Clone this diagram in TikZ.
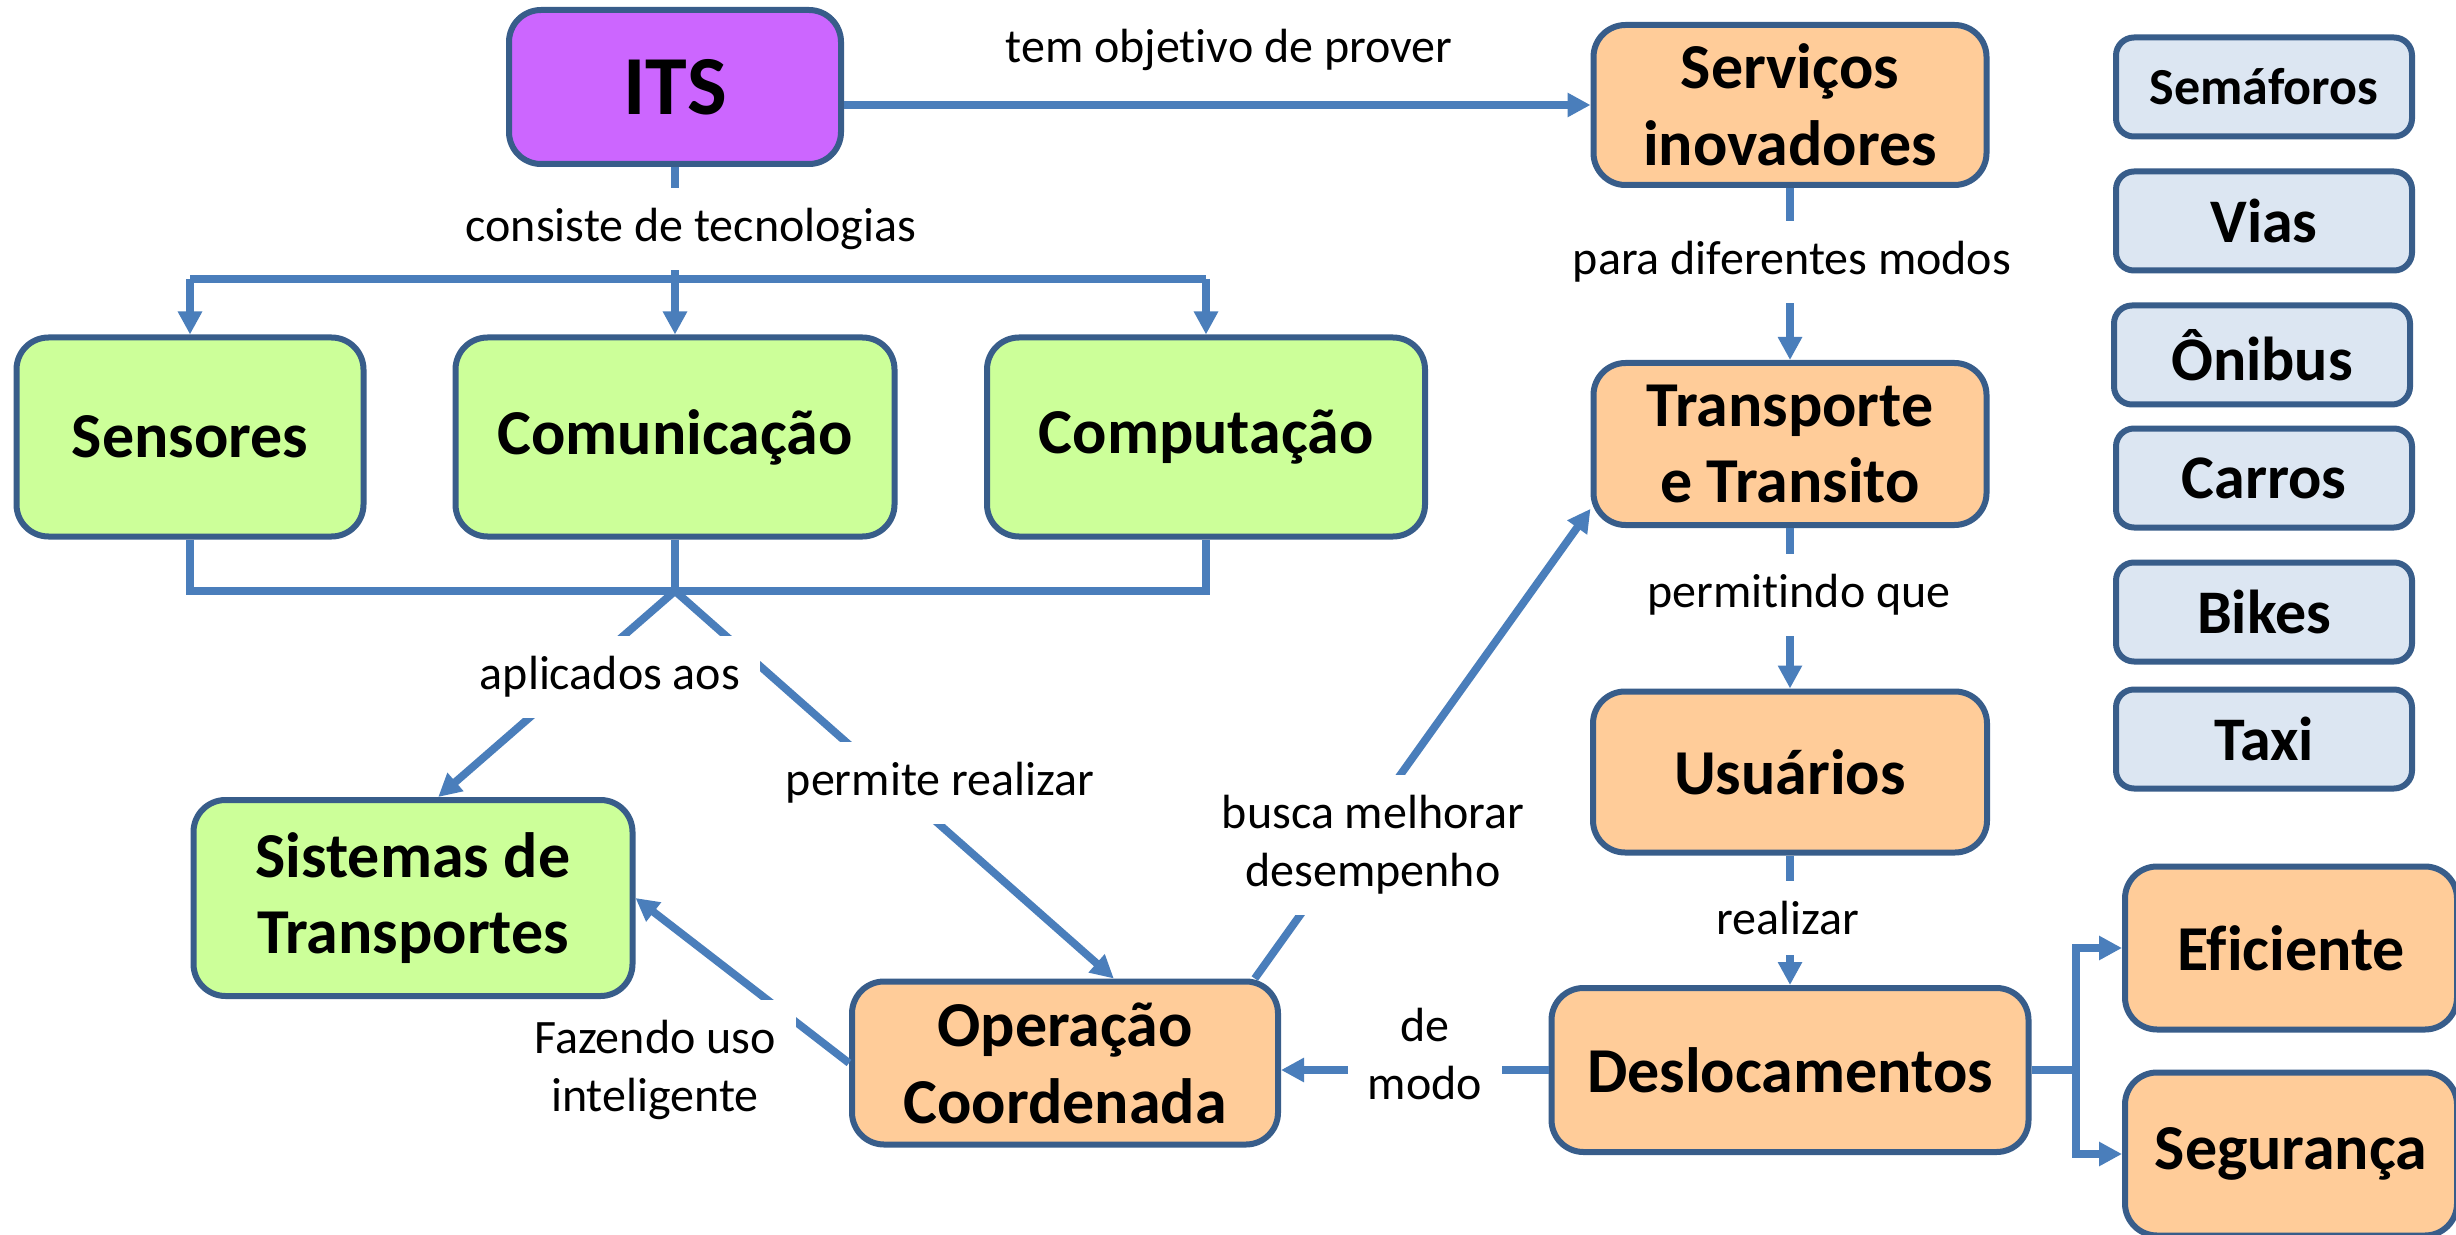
\documentclass[tikz,border=0pt]{standalone}
\usepackage{fontspec}
\setmainfont{Carlito}[Ligatures=NoCommon]
\usetikzlibrary{arrows.meta}
\definecolor{itsc}{HTML}{CC66FF}
\definecolor{verde}{HTML}{CCFF99}
\definecolor{laranja}{HTML}{FFCC99}
\definecolor{azulc}{HTML}{DCE6F2}
\definecolor{borda}{HTML}{385D8A}
\definecolor{linha}{HTML}{4A7EBB}
\begin{document}
\begin{tikzpicture}[x=0.5pt,y=-0.5pt,
    caixa/.style={draw=borda,line width=3pt,rounded corners=16pt,align=center,inner sep=0pt,font=\bfseries\fontsize{32}{38.4}\selectfont},
    modobox/.style={caixa,fill=azulc,rounded corners=9pt,minimum width=148pt,minimum height=49.5pt,font=\bfseries\fontsize{31}{37}\selectfont},
    rotulo/.style={fill=white,inner sep=10pt,align=center,font=\fontsize{24}{29}\selectfont},
    liga/.style={draw=linha,line width=3.9pt},
    seta/.style={liga,-{Triangle[length=11.5pt,width=11.5pt]}}]
            \path[use as bounding box,fill=white] (0,0) rectangle (2456,1235);
            \node[caixa,fill=itsc,minimum width=166pt,minimum height=77pt,font=\bfseries\fontsize{42}{50}\selectfont] (its) at (675,87) {ITS};
            \node[caixa,fill=laranja,minimum width=196.5pt,minimum height=80pt] (serv) at (1790,105) {Serviços\\inovadores};
            \node[caixa,fill=laranja,minimum width=196.5pt,minimum height=81pt] (trans) at (1790,444) {Transporte\\e Transito};
            \node[caixa,fill=laranja,minimum width=197pt,minimum height=80.5pt] (usu) at (1790,772) {Usuários};
            \node[caixa,fill=laranja,minimum width=238.5pt,minimum height=82pt] (desl) at (1790,1070) {Deslocamentos};
            \node[caixa,fill=laranja,minimum width=166pt,minimum height=81.5pt] (efic) at (2291,948) {Eficiente};
            \node[caixa,fill=laranja,minimum width=166pt,minimum height=81.5pt] (segu) at (2291,1154) {Segurança};
            \node[caixa,fill=verde,minimum width=173.5pt,minimum height=99.5pt] (sens) at (190,437) {Sensores};
            \node[caixa,fill=verde,minimum width=219.5pt,minimum height=99.5pt] (comu) at (675,437) {Comunicação};
            \node[caixa,fill=verde,minimum width=219pt,minimum height=99.5pt] (comp) at (1206,437) {Computação};
            \node[caixa,fill=verde,minimum width=219.5pt,minimum height=98pt] (sist) at (413,898) {Sistemas de\\Transportes};
            \node[caixa,fill=laranja,minimum width=213pt,minimum height=81.5pt] (op) at (1065,1063) {Operação\\Coordenada};
            \node[modobox,font=\bfseries\fontsize{26}{31}\selectfont] (sem) at (2264,87) {Semáforos};
            \node[modobox] (vias) at (2264,221) {Vias};
            \node[modobox] (onib) at (2262,355) {Ônibus};
            \node[modobox] (carr) at (2264,478) {Carros};
            \node[modobox] (bike) at (2264,612) {Bikes};
            \node[modobox] (taxi) at (2264,739) {Taxi};
            \coordinate (top) at (675,279);
            \coordinate (bot) at (675,591);
            \coordinate (fork) at (2076,1070);
            \draw[seta] (its.east |- serv.west) -- (serv.west);
            \draw[liga] (its.south) -- (top);
            \draw[liga] (sens.north |- top) -- (comp.north |- top);
            \draw[seta] (sens.north |- top) -- (sens.north);
            \draw[seta] (top) -- (comu.north);
            \draw[seta] (comp.north |- top) -- (comp.north);
            \draw[liga] (sens.south) |- (bot) -| (comp.south);
            \draw[liga] (comu.south) -- (bot);
            \draw[seta] (bot) -- (sist.76);
            \draw[seta] (bot) -- (op.60);
            \draw[seta] (op.west) -- (sist.east);
            \draw[seta] (op.24) -- (trans.198);
            \draw[seta] (serv) -- (trans);
            \draw[seta] (trans) -- (usu);
            \draw[seta] (usu) -- (desl);
            \draw[seta] (desl.west) -- (desl.west -| op.east);
            \draw[liga] (desl.east) -- (fork);
            \draw[seta] (fork) |- (efic.west);
            \draw[seta] (fork) |- (segu.west);
            \node[rotulo] (lTem) at (1229,50) {tem objetivo de prover};
            \node[rotulo] (lCons) at (691,229) {consiste de tecnologias};
            \node[rotulo] (lPara) at (1792,262) {para diferentes modos};
            \node[rotulo] (lPerm) at (1799,595) {permitindo que};
            \node[rotulo] (lReal) at (1788,918) {realizar};
            \node[rotulo] (lApl) at (610,677) {aplicados aos};
            \node[rotulo] (lPre) at (940,783) {permite realizar};
            \node[rotulo] (lBus) at (1373,845) {busca melhorar\\desempenho};
            \node[rotulo] (lFaz) at (655,1070) {Fazendo uso\\inteligente};
            \node[rotulo] (lDe) at (1425,1054) {de\\modo};
        \end{tikzpicture}
\end{document}
